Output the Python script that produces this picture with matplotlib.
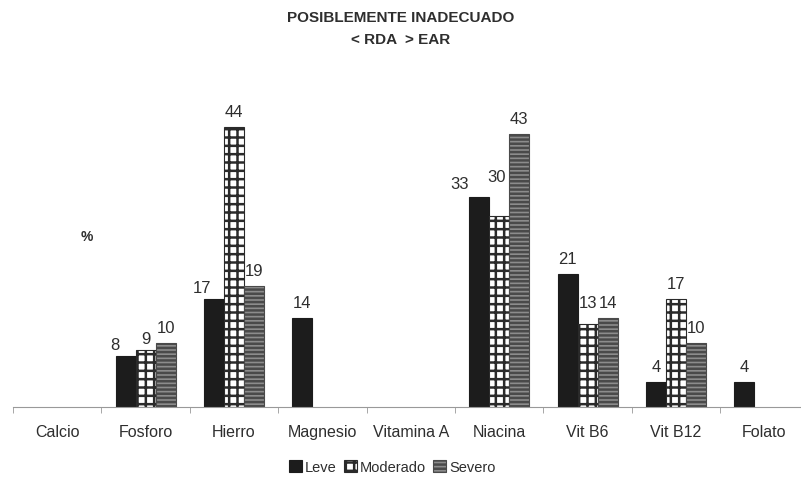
import numpy as np
import matplotlib
matplotlib.use("Agg")
import matplotlib.pyplot as plt

plt.rcParams['font.family'] = ['Liberation Sans', 'DejaVu Sans']
plt.rcParams['hatch.linewidth'] = 1.8

categories = ["Calcio", "Fosforo", "Hierro", "Magnesio", "Vitamina A",
              "Niacina", "Vit B6", "Vit B12", "Folato"]
series = ["Leve", "Moderado", "Severo"]
leve = [None, 8, 17, 14, None, 33, 21, 4, 4]
moderado = [None, 9, 44, None, None, 30, 13, 17, None]
severo = [None, 10, 19, None, None, 43, 14, 10, None]

# hand nudges of some value labels (pixels), as in the original chart
nudge = {(0, 1): (-11, -4), (0, 2): (-12, -4), (0, 5): (-20, -2),
         (1, 1): (0, -4), (1, 5): (-3, 24), (1, 6): (0, 6)}

fig = plt.figure(figsize=(8.01, 4.81), dpi=100)
ax = fig.add_axes([13 / 801, 73 / 481, 9 * 88.4 / 801, 328 / 481])

x = np.arange(len(categories))
w = 0.226
txt = "#2e2e2e"
styles = [
    dict(color="#1c1c1c", edgecolor="#1c1c1c"),
    dict(color="white", edgecolor="#2a2a2a", hatch="++"),
    dict(color="#8c8c8c", edgecolor="#4a4a4a", hatch="----"),
]

for k, vals in enumerate([leve, moderado, severo]):
    idx = [i for i in range(len(vals)) if vals[i] is not None]
    xs = x[idx] + (k - 1) * w
    vs = [vals[i] for i in idx]
    ax.bar(xs, vs, width=w, linewidth=0.8, label=series[k], **styles[k])
    for i, xi, v in zip(idx, xs, vs):
        dx, dy = nudge.get((k, i), (0, 0))
        ax.annotate(str(v), (xi, v), xytext=(dx, 8 + dy),
                    textcoords="offset pixels", ha="center", va="bottom",
                    fontsize=12, color=txt)

ax.set_xlim(-0.5, len(categories) - 0.5)
ax.set_ylim(0, 51.6)
for s in ["top", "right", "left"]:
    ax.spines[s].set_visible(False)
ax.spines["bottom"].set_color("#999999")
ax.set_yticks([])
ax.set_xticks(x)
ax.set_xticklabels(categories, fontsize=11.5, color=txt)
ax.tick_params(axis="x", which="major", length=0, pad=12)
ax.set_xticks(np.arange(len(categories) + 1) - 0.5, minor=True)
ax.tick_params(axis="x", which="minor", length=4, color="#999999")

fig.text(0.5, 1 - 18 / 481, "POSIBLEMENTE INADECUADO", ha="center", va="center",
         fontsize=11, fontweight="bold", color=txt)
fig.text(0.5, 1 - 40 / 481, "< RDA  > EAR", ha="center", va="center",
         fontsize=11, fontweight="bold", color=txt)
fig.text(87 / 801, 1 - 237 / 481, "%", ha="center", va="center",
         fontsize=10, fontweight="bold", color=txt)

fig.legend(loc="center", bbox_to_anchor=(392 / 801, 1 - 468 / 481), ncol=3,
           frameon=False, fontsize=10.5, handlelength=0.9, handleheight=0.9,
           handletextpad=0.2, columnspacing=0.5, labelcolor=txt)

fig.savefig("out.png", dpi=100)
